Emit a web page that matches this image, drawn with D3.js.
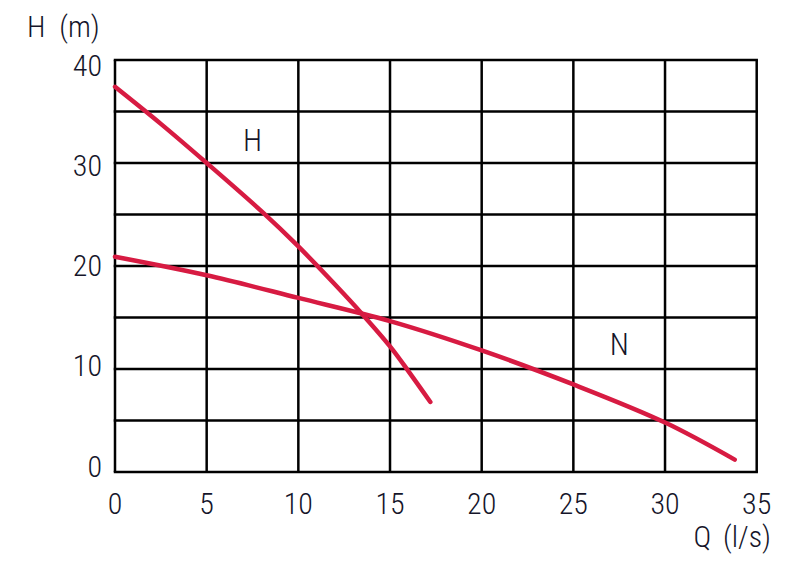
<!DOCTYPE html>
<html>
<head>
<meta charset="utf-8">
<script src="https://cdn.jsdelivr.net/npm/d3@7"></script>
<style>
  body { margin: 0; background: #fff; }
  text { font-family: "Roboto Condensed", "Liberation Sans Narrow", Roboto, sans-serif; font-weight: 300; fill: #15152a; }
</style>
</head>
<body>
<svg></svg>
<script>
const width = 794;
const height = 566;

// data: Q (l/s) vs H (m)
const xTicks = [0, 5, 10, 15, 20, 25, 30, 35];
const yTicks = [0, 10, 20, 30, 40];
const yGrid = [0, 5, 10, 15, 20, 25, 30, 35, 40];
const curveH = [[0, 37.4], [2.5, 33.8], [5, 30.0], [8, 25.3], [10, 21.9], [12, 18.2], [13.45, 15.4], [15, 12.2], [16, 9.8], [17.2, 6.8]];
const curveN = [[0, 20.9], [5, 19.1], [10, 16.9], [15, 14.65], [20, 11.8], [25, 8.5], [30, 4.8], [33.8, 1.2]];
const curveLabels = [{ name: "H", q: 7.5, h: 31.2 }, { name: "N", q: 27.5, h: 11.4 }];

let svg = d3.select("svg").attr("width", width).attr("height", height);

const x = d3.scaleLinear().domain([0, 35]).range([115, 756.7]);
const y = d3.scaleLinear().domain([0, 40]).range([472, 60]);
// tick labels sit slightly tighter than the grid in the original
const yLab = d3.scaleLinear().domain([0, 40]).range([466, 65]);

// grid
svg.append("g").selectAll("line").data(xTicks).join("line")
    .attr("x1", d => x(d)).attr("x2", d => x(d))
    .attr("y1", y(0)).attr("y2", y(40))
    .attr("stroke", "#000").attr("stroke-width", 2.5);
svg.append("g").selectAll("line").data(yGrid).join("line")
    .attr("x1", x(0) - 1.25).attr("x2", x(35) + 1.25)
    .attr("y1", d => y(d)).attr("y2", d => y(d))
    .attr("stroke", "#000").attr("stroke-width", 2.5);

// tick labels
svg.append("g").selectAll("text").data(yTicks).join("text")
    .attr("x", 102).attr("y", d => yLab(d) + 10.5)
    .attr("text-anchor", "end").attr("font-size", 30)
    .text(d => d);
svg.append("g").selectAll("text").data(xTicks).join("text")
    .attr("x", d => x(d)).attr("y", 514)
    .attr("text-anchor", "middle").attr("font-size", 30)
    .text(d => d);

// axis titles
svg.append("text").attr("x", 27).attr("y", 37).attr("font-size", 30)
    .attr("word-spacing", 7).text("H (m)");
svg.append("text").attr("x", 771).attr("y", 547).attr("text-anchor", "end").attr("font-size", 30)
    .attr("word-spacing", 5).text("Q (l/s)");

// curves
const line = d3.line().x(d => x(d[0])).y(d => y(d[1])).curve(d3.curveCatmullRom.alpha(0.5));
[curveH, curveN].forEach(c => {
    svg.append("path").attr("d", line(c))
        .attr("fill", "none").attr("stroke", "#d71b42")
        .attr("stroke-width", 4.5).attr("stroke-linecap", "round");
});

svg.append("g").selectAll("text").data(curveLabels).join("text")
    .attr("x", d => x(d.q)).attr("y", d => y(d.h))
    .attr("text-anchor", "middle").attr("font-size", 31)
    .text(d => d.name);
</script>
</body>
</html>
